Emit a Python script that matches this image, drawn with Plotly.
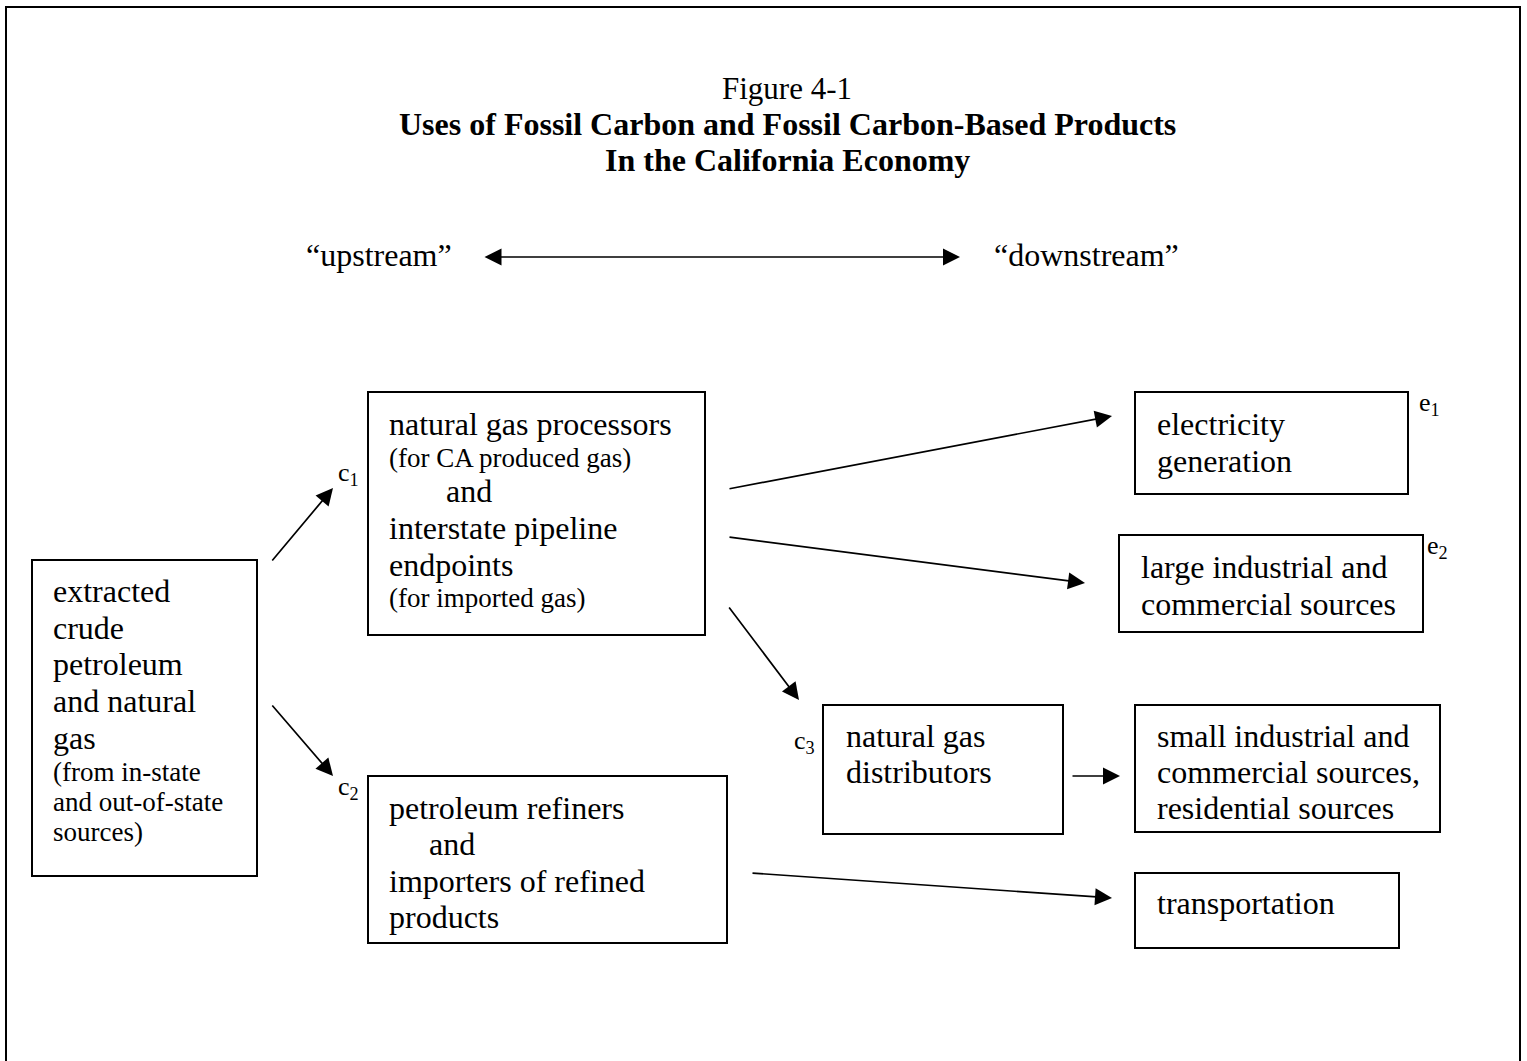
import plotly.graph_objects as go

W, H = 1527, 1061
FONT = "Liberation Serif, Times New Roman, serif"

# ---- data: boxes (x0, x1, y0, y1 in page pixels) ----
box_names = ["extracted", "ng_processors", "refiners", "electricity",
             "large_ind", "distributors", "small_ind", "transport"]
box_x0 = [32, 368, 368, 1135, 1119, 823, 1135, 1135]
box_x1 = [257, 705, 727, 1408, 1423, 1063, 1440, 1399]
box_y0 = [560, 392, 776, 392, 535, 705, 705, 873]
box_y1 = [876, 635, 943, 494, 632, 834, 832, 948]

# ---- text lines ----
line_x = [52, 52, 52, 52, 52, 52, 52, 52,
          388, 388, 445, 388, 388, 388,
          388, 428, 388, 388,
          1156, 1156,
          1140, 1140,
          845, 845,
          1156, 1156, 1156,
          1156]
line_y = [591, 628, 664, 701, 738, 772, 802, 832,
          424, 458, 491, 528, 565, 598,
          808, 844, 881, 917,
          424, 461,
          567, 604,
          736, 772,
          736, 772, 808,
          903]
line_text = ["extracted", "crude", "petroleum", "and natural", "gas",
             "(from in-state", "and out-of-state", "sources)",
             "natural gas processors", "(for CA produced gas)", "and",
             "interstate pipeline", "endpoints", "(for imported gas)",
             "petroleum refiners", "and", "importers of refined", "products",
             "electricity", "generation",
             "large industrial and", "commercial sources",
             "natural gas", "distributors",
             "small industrial and", "commercial sources,", "residential sources",
             "transportation"]
line_size = [32, 32, 32, 32, 32, 27, 27, 27,
             32, 27, 32, 32, 32, 27,
             32, 32, 32, 32,
             32, 32,
             32, 32,
             32, 32,
             32, 32, 32,
             32]

# ---- arrows: tail (x, y) -> head (x, y) ----
arrow_tail_x = [271, 271, 728, 728, 728, 1071, 751]
arrow_tail_y = [562, 704, 489, 537, 606, 776, 873]
arrow_head_x = [333, 333, 1112, 1085, 799, 1120, 1112]
arrow_head_y = [488, 776, 416, 583, 700, 776, 898]

# ---- node labels ----
label_text = ["c<sub>1</sub>", "c<sub>2</sub>", "c<sub>3</sub>",
              "e<sub>1</sub>", "e<sub>2</sub>"]
label_x = [337, 337, 793, 1418, 1426]
label_y = [474, 788, 742, 404, 547]

# ---- titles ----
title_lines = ["Figure 4-1",
               "<b>Uses of Fossil Carbon and Fossil Carbon-Based Products</b>",
               "<b>In the California Economy</b>"]
title_size = [31, 32, 32]
title_y = [88, 124, 160]
stream_text = ["\u201cupstream\u201d", "\u201cdownstream\u201d"]
stream_x = [305, 993]
stream_y = [255, 255]

fig = go.Figure()
fig.add_trace(go.Scatter(x=[0, W], y=[0, H], mode="markers",
                         marker=dict(opacity=0), hoverinfo="skip", showlegend=False))

shapes = []
# outer frame
shapes.append(dict(type="rect", xref="x", yref="y", x0=6, x1=1520, y0=7, y1=H + 20,
                   line=dict(color="black", width=2), fillcolor="rgba(0,0,0,0)"))
for x0, x1, y0, y1 in zip(box_x0, box_x1, box_y0, box_y1):
    shapes.append(dict(type="rect", xref="x", yref="y", x0=x0, x1=x1, y0=y0, y1=y1,
                       line=dict(color="black", width=2), fillcolor="rgba(0,0,0,0)"))

annotations = []
for x, y, t, s in zip(line_x, line_y, line_text, line_size):
    annotations.append(dict(x=x, y=y, xref="x", yref="y", text=t, showarrow=False,
                            xanchor="left", yanchor="middle", borderpad=0,
                            font=dict(family=FONT, size=s, color="black")))
for tx, ty, hx, hy in zip(arrow_tail_x, arrow_tail_y, arrow_head_x, arrow_head_y):
    annotations.append(dict(x=hx, y=hy, ax=tx, ay=ty, xref="x", yref="y",
                            axref="x", ayref="y", text="", showarrow=True,
                            arrowhead=2, arrowsize=2.0, arrowwidth=1.7,
                            arrowcolor="black"))
# double-headed arrow upstream <-> downstream
annotations.append(dict(x=960, y=257, ax=483, ay=257, xref="x", yref="y",
                        axref="x", ayref="y", text="", showarrow=True,
                        arrowhead=2, startarrowhead=2, arrowside="end+start",
                        arrowsize=2.0, startarrowsize=2.0, arrowwidth=1.7,
                        arrowcolor="black"))
for t, x, y in zip(label_text, label_x, label_y):
    annotations.append(dict(x=x, y=y, xref="x", yref="y", text=t, showarrow=False,
                            xanchor="left", yanchor="middle", borderpad=0,
                            font=dict(family=FONT, size=26, color="black")))
for t, s, y in zip(title_lines, title_size, title_y):
    annotations.append(dict(x=787, y=y, xref="x", yref="y", text=t, showarrow=False,
                            xanchor="center", yanchor="middle", borderpad=0,
                            font=dict(family=FONT, size=s, color="black")))
for t, x, y in zip(stream_text, stream_x, stream_y):
    annotations.append(dict(x=x, y=y, xref="x", yref="y", text=t, showarrow=False,
                            xanchor="left", yanchor="middle", borderpad=0,
                            font=dict(family=FONT, size=32, color="black")))

fig.update_layout(
    width=W, height=H, margin=dict(l=0, r=0, t=0, b=0),
    paper_bgcolor="white", plot_bgcolor="white",
    xaxis=dict(range=[0, W], visible=False, fixedrange=True),
    yaxis=dict(range=[H, 0], visible=False, fixedrange=True),
    shapes=shapes, annotations=annotations, showlegend=False,
)
fig.write_html("out.html", config={"displayModeBar": False},
               post_script="document.body.style.margin='0';document.body.style.overflow='hidden';")
